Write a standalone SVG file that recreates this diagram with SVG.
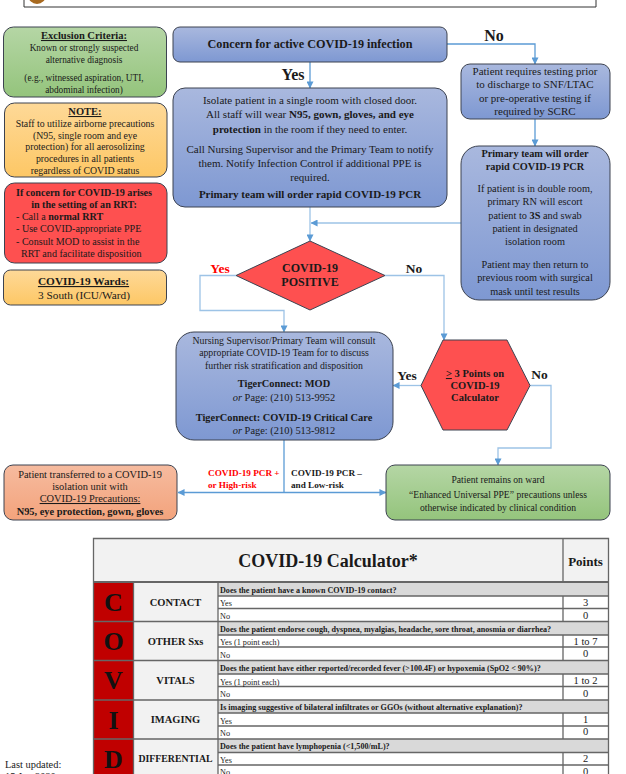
<svg xmlns="http://www.w3.org/2000/svg" width="626" height="774" viewBox="0 0 626 774">
<style>
text{font-family:"Liberation Serif","Times New Roman",serif;fill:#1a1a1a;text-anchor:middle}
.b{font-weight:bold}.u{text-decoration:underline}.s{stroke:#3c4250;stroke-width:1}
.c{fill:none;stroke:#5b9bd5;stroke-width:1.3}.lt{stroke:#9dc3e6}
.l{text-anchor:start}
.ex{font-size:9.3px}.no{font-size:9.8px}.rr{font-size:10.100px}.wa{font-size:11.300px}
.is{font-size:11px}.te{font-size:11px}.pr{font-size:10.300px}.co{font-size:9.800px}.co2{font-size:10.400px}
.tr{font-size:10.400px}.gr{font-size:9.600px}.hd{font-size:10.500px}.hx{font-size:10.500px}.dm{font-size:12px}
.y1{font-size:16px}.y2{font-size:13.500px}.pc{font-size:9.200px}
.gl{stroke:#666;stroke-width:1.300;fill:none}.gh{stroke:#666;stroke-width:2.200;fill:none}
.q{font-size:8.100px;font-weight:bold;text-anchor:start}.a{font-size:8.200px;text-anchor:start}.p{font-size:10.500px}
.cat{font-size:10.500px;font-weight:bold}.catd{font-size:9.800px;font-weight:bold}.let{font-size:26px;font-weight:bold;fill:#111}
.ttl{font-size:18px}.pts{font-size:13px}.up{font-size:10.400px}
</style>
<defs>
<linearGradient id="blue" x1="0" y1="0" x2="0" y2="1"><stop offset="0" stop-color="#a9b8de"/><stop offset="1" stop-color="#7e98d2"/></linearGradient>
<linearGradient id="green" x1="0" y1="0" x2="0" y2="1"><stop offset="0" stop-color="#b5d6a5"/><stop offset="1" stop-color="#94c47c"/></linearGradient>
<linearGradient id="amber" x1="0" y1="0" x2="0" y2="1"><stop offset="0" stop-color="#fed998"/><stop offset="1" stop-color="#fdc765"/></linearGradient>
<linearGradient id="salmon" x1="0" y1="0" x2="0" y2="1"><stop offset="0" stop-color="#f6bb9f"/><stop offset="1" stop-color="#f3a37c"/></linearGradient>
<marker id="ar" viewBox="0 0 8 8" refX="7.500" refY="4" markerWidth="7" markerHeight="7" markerUnits="userSpaceOnUse" orient="auto"><path d="M0 0L8 4L0 8Z" fill="#5b9bd5"/></marker>
</defs>
<rect width="626" height="774" fill="#fff"/>
<g id="header"><path d="M24 0V7H596V0" fill="none" stroke="#333" stroke-width="1"/><circle cx="37" cy="-5" r="9" fill="#a86a20"/></g>
<g id="connectors">
<path class="c" marker-end="url(#ar)" d="M310 62V88"/>
<path class="c lt" marker-end="url(#ar)" d="M310 207V241"/>
<path class="c" marker-end="url(#ar)" d="M447 44H535V64"/>
<path class="c" marker-end="url(#ar)" d="M535 119V146"/>
<path class="c lt" marker-end="url(#ar)" d="M461 223H311"/>
<path class="c lt" marker-end="url(#ar)" d="M236 275.500H200V310.500H284V332"/>
<path class="c lt" marker-end="url(#ar)" d="M385 275.500H444V340"/>
<path class="c lt" marker-end="url(#ar)" d="M421 385.500H393"/>
<path class="c lt" marker-end="url(#ar)" d="M530 385.500H551V448H498V465"/>
<path class="c" d="M284 440V492.500"/>
<path class="c" marker-end="url(#ar)" d="M284 492.500H178"/>
<path class="c" marker-end="url(#ar)" d="M284 492.500H386"/>
</g>
<g id="exclusion"><rect class="s" x="3.500" y="27" width="163" height="70" rx="10" fill="url(#green)"/>
<text class="b u hd" x="84" y="39">Exclusion Criteria:</text>
<text class="ex" x="84" y="51">Known or strongly suspected</text><text class="ex" x="84" y="62.500">alternative diagnosis</text>
<text class="ex" x="84" y="80.500">(e.g., witnessed aspiration, UTI,</text><text class="ex" x="84" y="92.500">abdominal infection)</text></g>
<g id="note"><rect class="s" x="4.500" y="103" width="162.500" height="74" rx="10" fill="url(#amber)"/>
<text class="b u hd" x="85" y="115">NOTE:</text>
<text class="no" x="85" y="127">Staff to utilize airborne precautions</text><text class="no" x="85" y="139">(N95, single room and eye</text><text class="no" x="85" y="150">protection) for all aerosolizing</text><text class="no" x="85" y="162">procedures in all patients</text><text class="no" x="85" y="174">regardless of COVID status</text></g>
<g id="rrt"><rect class="s" x="4.500" y="183" width="162.500" height="80" rx="10" fill="#fe5050"/>
<text class="rr b" x="84" y="196">If concern for COVID-19 arises</text><text class="rr b" x="84" y="208">in the setting of an RRT:</text>
<text class="rr l" x="16" y="220">- Call a <tspan class="b">normal RRT</tspan></text><text class="rr l" x="16" y="232">- Use COVID-appropriate PPE</text><text class="rr l" x="16" y="245">- Consult MOD to assist in the</text><text class="rr l" x="21" y="257">RRT and facilitate disposition</text></g>
<g id="wards"><rect class="s" x="3.500" y="270" width="163" height="35" rx="7" fill="url(#amber)"/>
<text class="b u wa" x="83.500" y="285">COVID-19 Wards:</text><text class="wa" x="84" y="298.500">3 South (ICU/Ward)</text></g>
<g id="concern"><rect class="s" x="173" y="27" width="274" height="35" rx="7" fill="url(#blue)"/><text class="b" style="font-size:12.200px" x="310" y="48">Concern for active COVID-19 infection</text></g>
<g id="isolate"><rect class="s" x="173" y="88" width="274" height="119" rx="12" fill="url(#blue)"/>
<text class="is" x="310" y="104">Isolate patient in a single room with closed door.</text>
<text class="is" x="310" y="118">All staff will wear <tspan class="b">N95, gown, gloves, and eye</tspan></text>
<text class="is" x="310" y="133"><tspan class="b">protection</tspan> in the room if they need to enter.</text>
<text class="is" x="310" y="153">Call Nursing Supervisor and the Primary Team to notify</text>
<text class="is" x="310" y="167">them. Notify Infection Control if additional PPE is</text>
<text class="is" x="310" y="181">required.</text>
<text class="is b" x="310" y="198">Primary team will order rapid COVID-19 PCR</text></g>
<g id="testing"><rect class="s" x="461" y="64" width="149" height="55" rx="9" fill="url(#blue)"/>
<text class="te" x="535" y="75">Patient requires testing prior</text><text class="te" x="535" y="88">to discharge to SNF/LTAC</text><text class="te" x="535" y="102">or pre-operative testing if</text><text class="te" x="535" y="115">required by SCRC</text></g>
<g id="primary"><rect class="s" x="461" y="146" width="149" height="154" rx="18" fill="url(#blue)"/>
<text class="pr b" x="535" y="157">Primary team will order</text><text class="pr b" x="535" y="170">rapid COVID-19 PCR</text>
<text class="pr" x="535" y="192">If patient is in double room,</text><text class="pr" x="535" y="205">primary RN will escort</text><text class="pr" x="535" y="219">patient to <tspan class="b">3S</tspan> and swab</text><text class="pr" x="535" y="232">patient in designated</text><text class="pr" x="535" y="245">isolation room</text>
<text class="pr" x="535" y="268">Patient may then return to</text><text class="pr" x="535" y="281">previous room with surgical</text><text class="pr" x="535" y="295">mask until test results</text></g>
<g id="positive"><polygon class="s" points="236,275.500 310,241 385,275.500 310,310" fill="#fe5050"/>
<text class="b dm" x="310" y="272">COVID-19</text><text class="b dm" x="310" y="286">POSITIVE</text></g>
<g id="consult"><rect class="s" x="176" y="332" width="217" height="108" rx="18" fill="url(#blue)"/>
<text class="co" x="284" y="344">Nursing Supervisor/Primary Team will consult</text><text class="co" x="284" y="356">appropriate COVID-19 Team for to discuss</text><text class="co" x="284" y="369">further risk stratification and disposition</text>
<text class="co2 b" x="284" y="387">TigerConnect: MOD</text><text class="co2" x="284" y="401"><tspan font-style="italic">or</tspan> Page: (210) 513-9952</text>
<text class="co2 b" x="284" y="421">TigerConnect: COVID-19 Critical Care</text><text class="co2" x="284" y="434"><tspan font-style="italic">or</tspan> Page: (210) 513-9812</text></g>
<g id="calculator"><polygon class="s" points="421,385.500 443,340 507,340 530,385.500 507,430 443,430" fill="#fe5050"/>
<text class="b hx" x="475" y="377"><tspan text-decoration="underline">&gt;</tspan> 3 Points on</text><text class="b hx" x="475" y="389">COVID-19</text><text class="b hx" x="475" y="401">Calculator</text></g>
<g id="transfer"><rect class="s" x="4" y="465" width="173" height="55" rx="9" fill="url(#salmon)"/>
<text class="tr" x="90" y="478">Patient transferred to a COVID-19</text><text class="tr" x="90" y="490">isolation unit with</text><text class="tr u" x="90" y="502">COVID-19 Precautions:</text><text class="tr b" x="90" y="515">N95, eye protection, gown, gloves</text></g>
<g id="ward"><rect class="s" x="386" y="465" width="224" height="55" rx="9" fill="url(#green)"/>
<text class="gr" x="498" y="483">Patient remains on ward</text><text class="gr" x="498" y="498">“Enhanced Universal PPE” precautions unless</text><text class="gr" x="498" y="511">otherwise indicated by clinical condition</text></g>
<g id="labels">
<text class="b y1" x="293" y="80">Yes</text>
<text class="b y1" x="494" y="41">No</text>
<text class="b y2" x="220" y="273" style="fill:#f00">Yes</text>
<text class="b y2" x="414" y="273">No</text>
<text class="b y2" x="407" y="380">Yes</text>
<text class="b y2" x="539.500" y="379">No</text>
<text class="b l pc" x="208" y="476" style="fill:#f00">COVID-19 PCR +</text>
<text class="b l pc" x="208" y="488" style="fill:#f00">or High-risk</text>
<text class="b l pc" x="291" y="476">COVID-19 PCR –</text>
<text class="b l pc" x="291" y="488">and Low-risk</text>
</g>
<g id="calc-table">
<rect x="93.500" y="538.500" width="515" height="44" fill="#f2f2f2"/>
<rect x="133.500" y="582" width="84.500" height="192" fill="#f2f2f2"/>
<rect x="93.500" y="582" width="40" height="192" fill="#c00000"/>
<g fill="#d9d9d9"><rect x="218" y="583" width="390.500" height="13"/><rect x="218" y="622" width="390.500" height="13"/><rect x="218" y="661" width="390.500" height="13"/><rect x="218" y="700" width="390.500" height="13"/><rect x="218" y="739" width="390.500" height="13"/></g>
<path class="gl" d="M93.500 774V538.500H608.500V774M563 538.500V582M218 582V774M133.500 582V774"/>
<path class="gl" d="M563 596V621.500M563 635V660.500M563 674V700M563 713V739M563 752.500V774"/>
<path class="gh" d="M93.500 582H608.500"/>
<path class="gl" d="M93.500 621.500H608.500M93.500 660.500H608.500M93.500 700H608.500M93.500 739H608.500M218 596H608.500M218 608.500H608.500M218 647H608.500M218 686.500H608.500M218 713H608.500M218 726H608.500M218 752.500H608.500M218 765H608.500M218 635H608.500M218 674H608.500"/>
<text class="b ttl" x="328" y="567">COVID-19 Calculator*</text>
<text class="b pts" x="585.500" y="566">Points</text>
<text class="let" x="113.500" y="611">C</text><text class="let" x="113.500" y="650">O</text><text class="let" x="113.500" y="689">V</text><text class="let" x="113.500" y="729">I</text><text class="let" x="113.500" y="768">D</text>
<text class="cat" x="175.500" y="606">CONTACT</text><text class="cat" x="175.500" y="645">OTHER Sxs</text><text class="cat" x="175.500" y="684">VITALS</text><text class="cat" x="175.500" y="723">IMAGING</text><text class="catd" x="175.500" y="762">DIFFERENTIAL</text>
<text class="q" x="220" y="593">Does the patient have a known COVID-19 contact?</text><text class="a" x="220" y="606">Yes</text><text class="a" x="220" y="619">No</text>
<text class="q" x="220" y="632">Does the patient endorse cough, dyspnea, myalgias, headache, sore throat, anosmia or diarrhea?</text><text class="a" x="220" y="645">Yes (1 point each)</text><text class="a" x="220" y="658">No</text>
<text class="q" x="220" y="671">Does the patient have either reported/recorded fever (&gt;100.4F) or hypoxemia (SpO2 &lt; 90%)?</text><text class="a" x="220" y="685">Yes (1 point each)</text><text class="a" x="220" y="697">No</text>
<text class="q" x="220" y="710">Is imaging suggestive of bilateral infiltrates or GGOs (without alternative explanation)?</text><text class="a" x="220" y="724">Yes</text><text class="a" x="220" y="736">No</text>
<text class="q" x="220" y="749">Does the patient have lymphopenia (&lt;1,500/mL)?</text><text class="a" x="220" y="763">Yes</text><text class="a" x="220" y="775">No</text>
<text class="p" x="585.500" y="606">3</text><text class="p" x="585.500" y="619">0</text><text class="p" x="585.500" y="645">1 to 7</text><text class="p" x="585.500" y="657">0</text><text class="p" x="585.500" y="684">1 to 2</text><text class="p" x="585.500" y="697">0</text><text class="p" x="585.500" y="723">1</text><text class="p" x="585.500" y="735">0</text><text class="p" x="585.500" y="762">2</text><text class="p" x="585.500" y="775">0</text>
</g>
<g id="updated"><text class="l up" x="5" y="768">Last updated:</text><text class="l up" x="5" y="780">15 Jun 2020</text></g>
</svg>
